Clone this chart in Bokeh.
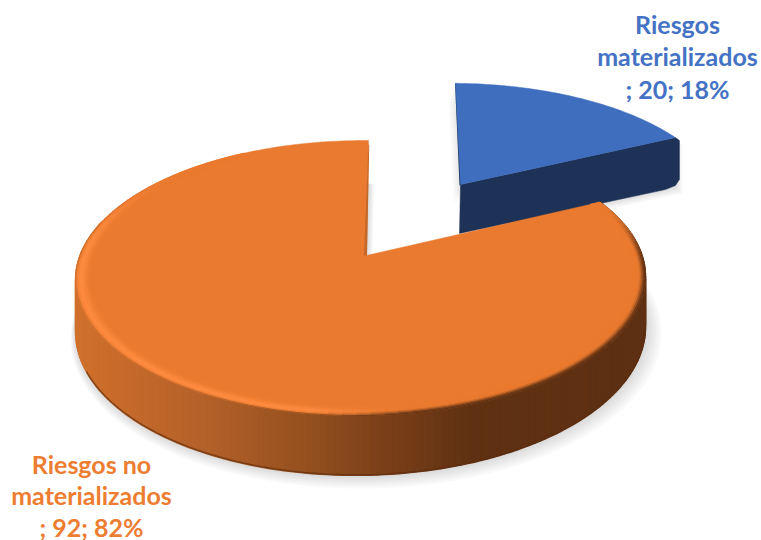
import numpy as np
from bokeh.plotting import figure
from bokeh.models import Range1d
from bokeh.core.properties import value
from bokeh.embed import file_html
from bokeh.resources import INLINE

categories = ["Riesgos materializados", "Riesgos no materializados"]
values = [20, 92]
colors_top = ["#3F6EBF", "#EA7A2F"]
label_colors = ["#4472C4", "#ED7D31"]

total = sum(values)
percents = [round(v / total * 100) for v in values]
split = 360.0 * values[0] / total

p = figure(width=761, height=540, x_range=Range1d(0, 761), y_range=Range1d(540, 0),
           min_border=0, toolbar_location=None, output_backend="svg")
p.axis.visible = False
p.grid.visible = False
p.outline_line_color = None
p.background_fill_color = "#FFFFFF"
p.border_fill_color = "#FFFFFF"

K, E, R, Q = 0.164, 0.0193, 281.0, 133.8


def proj(theta, r=1.0, cx=366.0, cy=255.0, sx=1.0, sy=1.0, skew=2.3, drop=0.0):
    t = np.radians(theta)
    X, Y = r * np.sin(t), r * np.cos(t)
    d = 1 + K * Y + E * X
    x = cx + sx * (R * X + skew * Y) / d
    y = cy + sy * (-Q * Y) / d + drop / d
    return x, y


def hex2rgb(h):
    return np.array([int(h[i:i + 2], 16) for i in (1, 3, 5)], dtype=float)


def mix(a, b, t):
    t = float(np.clip(t, 0, 1))
    c = hex2rgb(a) * (1 - t) + hex2rgb(b) * t
    return "#%02X%02X%02X" % tuple(int(round(v)) for v in c)


def smooth(a, b, x):
    t = np.clip((x - a) / (b - a), 0, 1)
    return t * t * (3 - 2 * t)


side_stops_x = [76, 110, 200, 300, 380, 470, 700]
side_stops_c = ["#D0702C", "#C96C2B", "#B5612A", "#96511F", "#7C4018", "#5F3112", "#5E3013"]


def side_color(x):
    x = float(np.clip(x, side_stops_x[0], side_stops_x[-1]))
    for i in range(len(side_stops_x) - 1):
        if x <= side_stops_x[i + 1]:
            return mix(side_stops_c[i], side_stops_c[i + 1],
                       (x - side_stops_x[i]) / (side_stops_x[i + 1] - side_stops_x[i]))
    return side_stops_c[-1]


DROP = 50.0
theta_orange = np.linspace(split, 360.0, 240)
theta_side = np.linspace(split, 285.0, 180)
ax, ay = proj(0.0, r=0.0)

# --- soft shadows
for k in range(1, 7):
    bx, by = proj(theta_orange, r=1 + 0.006 * k, drop=DROP + k * 0.8)
    xs = np.r_[ax, bx] + k * 1.0
    ys = np.r_[ay, by]
    p.patch(xs, ys, fill_color="#000000", fill_alpha=0.022, line_color=None)

blue = dict(cx=460.0, cy=184.0, sx=0.934, sy=0.88, skew=-6.2)
theta_blue = np.linspace(0.0, split, 50)
bx_top, by_top = proj(theta_blue, **blue)
BLUE_DROP = 50.0
for k in range(1, 7):
    xs = np.r_[blue["cx"], bx_top] - k * 1.2
    ys = np.r_[blue["cy"], by_top] + k * 3.0
    p.patch(xs, ys, fill_color="#000000", fill_alpha=0.014, line_color=None)
    xs2 = np.r_[blue["cx"], bx_top[-1], bx_top[-1]] + k * 1.2
    ys2 = np.r_[blue["cy"] + BLUE_DROP, by_top[-1] + BLUE_DROP, by_top[-1]] + k * 1.0
    p.patch(xs2, ys2, fill_color="#000000", fill_alpha=0.02, line_color=None)

# --- blue slice: wall then top
ex, ey = bx_top[-1], by_top[-1]
wall_x = [blue["cx"], ex, ex + 4, ex + 4, ex, ex - 10, blue["cx"] - 1]
wall_y = [blue["cy"], ey, ey + 3, ey + BLUE_DROP - 8, ey + BLUE_DROP - 2,
          ey + BLUE_DROP + 2, blue["cy"] + BLUE_DROP - 1]
p.patch(wall_x, wall_y, fill_color="#1E3257", line_color="#1E3257", line_width=0.5)
p.patch([bx_top[0] - 0.5, bx_top[0] + 1, blue["cx"] + 1, blue["cx"] - 1],
        [by_top[0], by_top[0], blue["cy"], blue["cy"] + 1],
        fill_color="#1E3257", line_color=None)
p.patch(np.r_[blue["cx"], bx_top], np.r_[blue["cy"], by_top],
        fill_color=colors_top[0], line_color=colors_top[0], line_width=0.5)

# --- orange side wall
qx, qy, qc = [], [], []
for a, b in zip(theta_side[:-1], theta_side[1:]):
    x0, y0 = proj(a)
    x1, y1 = proj(b)
    x2, y2 = proj(b, drop=DROP)
    x3, y3 = proj(a, drop=DROP)
    qx.append([x0, x1, x2, x3])
    qy.append([y0, y1, y2, y3])
    qc.append(side_color((x0 + x1) / 2))
p.patches(qx, qy, fill_color=qc, line_color=qc, line_width=1.4)

# darker lower edge of the wall
ltheta = np.linspace(100, 245, 120)
lx, ly = proj(ltheta, drop=DROP - 0.5)
p.line(lx, ly, line_color="#5A2C10", line_width=1.5, line_alpha=0.65)

# --- orange top
tx, ty = proj(theta_orange)
p.patch(np.r_[ax, tx], np.r_[ay, ty], fill_color=colors_top[1],
        line_color=colors_top[1], line_width=0.5)

# inner wall on the notch
wx0, wy0 = proj(360.0)
p.patch([wx0, wx0 + 0.8, ax + 0.5, ax - 2.5],
        [wy0 + 4, wy0 + 4, ay, ay],
        fill_color="#C4682A", line_color=None)

# --- bevel on the rim of the top
radii = np.linspace(1.0, 0.955, 9)
theta_rim = np.linspace(split, 330.0, 110)
rx, ry, rc = [], [], []
for r0, r1 in zip(radii[:-1], radii[1:]):
    u = (1.0 - (r0 + r1) / 2) / (1.0 - radii[-1])
    for a, b in zip(theta_rim[:-1], theta_rim[1:]):
        m = (a + b) / 2
        x0, y0 = proj(a, r=r0)
        x1, y1 = proj(b, r=r0)
        x2, y2 = proj(b, r=r1)
        x3, y3 = proj(a, r=r1)
        dark = mix("#5E3013", colors_top[1], smooth(0.02, 0.62, u))
        peak = 1 - abs(u - 0.45) / 0.55
        light = mix(colors_top[1], "#FF8C40", max(peak, 0) ** 0.8)
        light = mix(side_color((x0 + x1) / 2), light, smooth(0.0, 0.22, u))
        c = mix(dark, light, smooth(168, 192, m))
        c = mix(c, colors_top[1], smooth(270, 315, m))
        c = mix(colors_top[1], c, smooth(split + 2, split + 30, m))
        rx.append([x0, x1, x2, x3])
        ry.append([y0, y1, y2, y3])
        rc.append(c)
p.patches(rx, ry, fill_color=rc, line_color=rc, line_width=1.0)

# --- labels
label_lines = [
    ["Riesgos", "materializados", f"; {values[0]}; {percents[0]}%"],
    ["Riesgos no", "materializados", f"; {values[1]}; {percents[1]}%"],
]
label_x = [677, 91]
label_y = [[23, 55, 88], [463, 494, 526]]
for lines, lx_, ly_, col in zip(label_lines, label_x, label_y, label_colors):
    p.text(x=[lx_] * 3, y=ly_, text=lines, text_color=col,
           text_font=value("Lato"), text_font_style="bold", text_font_size="25px",
           text_align="center", text_baseline="alphabetic")

html = file_html(p, INLINE)
open("out.html", "w").write(html)
